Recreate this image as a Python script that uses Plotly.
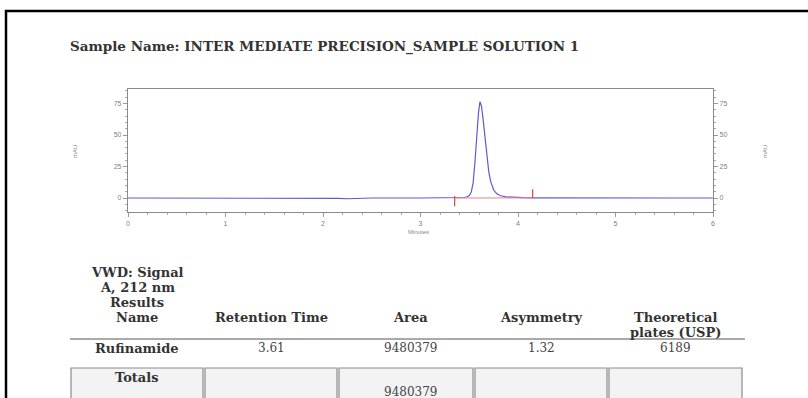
import plotly.graph_objects as go

# ---------------- data ----------------
title_text = "Sample Name: INTER MEDIATE PRECISION_SAMPLE SOLUTION 1"

# chromatogram (minutes, mAU)
times = [0, 0.5, 1.0, 1.5, 2.0, 2.15, 2.25, 2.35, 2.5, 3.0, 3.3, 3.40, 3.45, 3.48, 3.50,
         3.52, 3.54, 3.56, 3.58, 3.595, 3.61, 3.625, 3.64, 3.66, 3.68, 3.70, 3.72, 3.75,
         3.78, 3.82, 3.88, 3.95, 4.05, 4.15, 4.5, 4.8, 5.0, 5.2, 5.4, 5.6, 6.0]
signal = [0, 0, 0, 0, 0, -0.3, -0.6, -0.3, 0, 0, 0, 0.1, 0.4, 1.0, 2.0,
          4.5, 12, 30, 52, 68, 76.5, 73, 64, 49, 33, 21, 13, 6.5,
          3.5, 1.8, 0.9, 0.5, 0.25, 0.1, 0, -0.2, -0.4, -0.3, -0.2, 0, 0]

# integration baseline and event markers
base_t = [3.35, 4.15]
base_y = [0, 0.1]
event_t = [3.35, 4.15]
event_lo = [-6.5, 0]
event_hi = [1.5, 7]

x_ticks = [0, 1, 2, 3, 4, 5, 6]
y_ticks = [0, 25, 50, 75]

# results table
col_headers = ["Retention Time", "Area", "Asymmetry", "Theoretical"]
first_col_header = ["VWD: Signal", "A, 212 nm", "Results", "Name"]
row_name = "Rufinamide"
row_values = ["3.61", "9480379", "1.32", "6189"]
totals_label = "Totals"
totals_values = ["", "9480379", "", ""]

# ---------------- layout helpers ----------------
L, R, T, B = 128, 713, 89, 212
W, H = R - L, B - T


def px(x):
    return (x - L) / W


def py(y):
    return (B - y) / H


SERIF = "DejaVu Serif"
SANS = "Liberation Sans"

fig = go.Figure()

fig.add_trace(go.Scatter(x=times, y=signal, mode="lines",
                         line=dict(color="#5b5bd8", width=1.2),
                         hoverinfo="skip", showlegend=False))
fig.add_trace(go.Scatter(x=base_t, y=base_y, mode="lines",
                         line=dict(color="#f08080", width=1),
                         hoverinfo="skip", showlegend=False))
for t, lo, hi in zip(event_t, event_lo, event_hi):
    fig.add_trace(go.Scatter(x=[t, t], y=[lo, hi], mode="lines",
                             line=dict(color="#e05050", width=1.3),
                             hoverinfo="skip", showlegend=False))
# invisible trace for the right axis
fig.add_trace(go.Scatter(x=[0, 6], y=[0, 0], yaxis="y2", mode="lines",
                         line=dict(color="rgba(0,0,0,0)", width=0),
                         hoverinfo="skip", showlegend=False))

yr = [-11.1, 86.5]
tickfont = dict(family=SANS, size=7, color="#808080")
axis_common = dict(showgrid=False, zeroline=False, showline=True,
                   linecolor="#8a8a8a", linewidth=1.2,
                   ticks="outside", ticklen=4, tickcolor="#999999",
                   tickfont=tickfont)

fig.update_layout(
    width=808, height=398,
    margin=dict(l=L, r=808 - R, t=T, b=398 - B),
    paper_bgcolor="white", plot_bgcolor="white",
    xaxis=dict(range=[0, 6], tickvals=x_ticks, mirror=True,
               minor=dict(ticks="outside", ticklen=2, dtick=0.2, tickcolor="#aaaaaa"),
               **axis_common),
    yaxis=dict(range=yr, tickvals=y_ticks, mirror=True,
               minor=dict(ticks="outside", ticklen=2, dtick=5, tickcolor="#aaaaaa"),
               **axis_common),
    yaxis2=dict(range=yr, tickvals=y_ticks, overlaying="y", side="right",
                minor=dict(ticks="outside", ticklen=2, dtick=5, tickcolor="#aaaaaa"),
                **axis_common),
)

shapes = []
ann = []

# outer black frame
shapes.append(dict(type="rect", xref="paper", yref="paper",
                   x0=px(6), y0=py(11), x1=px(840), y1=py(430),
                   line=dict(color="black", width=2.5), layer="above"))

# header underline
shapes.append(dict(type="line", xref="paper", yref="paper",
                   x0=px(70), x1=px(745), y0=py(339), y1=py(339),
                   line=dict(color="#555555", width=1)))

# totals boxes
cell_edges = [70, 204, 338, 474, 608, 743]
for i in range(5):
    shapes.append(dict(type="rect", xref="paper", yref="paper",
                       x0=px(cell_edges[i] + 1), x1=px(cell_edges[i + 1] - 1),
                       y0=py(368), y1=py(420),
                       fillcolor="#f3f3f3",
                       line=dict(color="#8c8c8c", width=1.2), layer="below"))

# title
ann.append(dict(text="<b>" + title_text + "</b>", x=px(68), y=py(47),
                xanchor="left", yanchor="middle",
                font=dict(family=SERIF, size=13.5, color="#333333")))

# axis titles
ann.append(dict(text="Minutes", x=px(418), y=py(232), xanchor="center", yanchor="middle",
                font=dict(family=SANS, size=6, color="#888888")))
for xx in (75, 765):
    ann.append(dict(text="mAU", x=px(xx), y=py(152), textangle=-90,
                    xanchor="center", yanchor="middle",
                    font=dict(family=SANS, size=6, color="#888888")))

centers = [137, 271, 410, 541, 675]
hdr_font = dict(family=SERIF, size=13, color="#333333")
val_font = dict(family=SERIF, size=12, color="#444444")

for i, line in enumerate(first_col_header):
    ann.append(dict(text="<b>" + line + "</b>", x=px(centers[0]), y=py(272 + 15 * i),
                    xanchor="center", yanchor="middle", font=hdr_font))
for c, h in zip(centers[1:], col_headers):
    ann.append(dict(text="<b>" + h + "</b>", x=px(c), y=py(317),
                    xanchor="center", yanchor="middle", font=hdr_font))
ann.append(dict(text="<b>plates (USP)</b>", x=px(centers[4]), y=py(332),
                xanchor="center", yanchor="middle", font=hdr_font))

ann.append(dict(text="<b>" + row_name + "</b>", x=px(centers[0]), y=py(348),
                xanchor="center", yanchor="middle", font=hdr_font))
for c, v in zip(centers[1:], row_values):
    ann.append(dict(text=v, x=px(c), y=py(348), xanchor="center", yanchor="middle",
                    font=val_font))

ann.append(dict(text="<b>" + totals_label + "</b>", x=px(centers[0]), y=py(377),
                xanchor="center", yanchor="middle", font=hdr_font))
for c, v in zip(centers[1:], totals_values):
    if v:
        ann.append(dict(text=v, x=px(c), y=py(392), xanchor="center", yanchor="middle",
                        font=val_font))

for a in ann:
    a.update(xref="paper", yref="paper", showarrow=False)

fig.update_layout(shapes=shapes, annotations=ann)

fig.write_html("out.html")
